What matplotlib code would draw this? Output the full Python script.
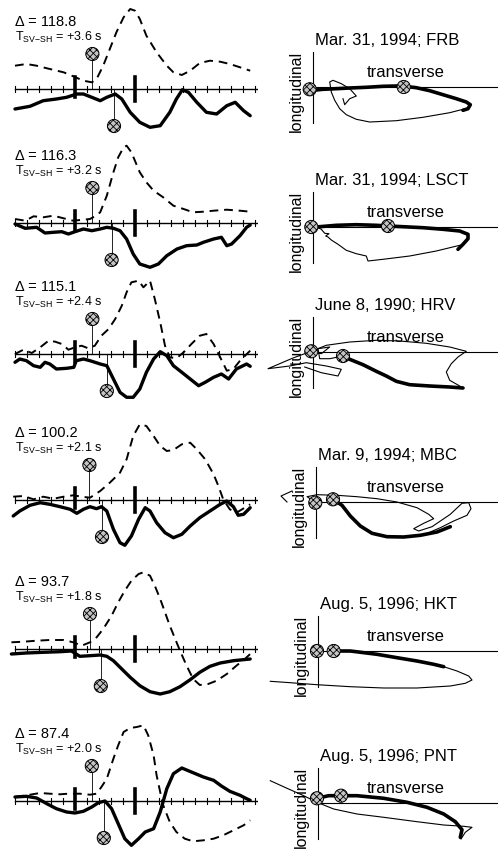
import matplotlib
matplotlib.use('Agg')
import matplotlib.pyplot as plt
import numpy as np

plt.rcParams['font.family'] = ['Liberation Sans', 'DejaVu Sans']
plt.rcParams['mathtext.fontset'] = 'custom'
plt.rcParams['mathtext.rm'] = 'Liberation Sans'
plt.rcParams['hatch.color'] = '#555555'
plt.rcParams['hatch.linewidth'] = 0.6

# ---- event info ----
deltas = [118.8, 116.3, 115.1, 100.2, 93.7, 87.4]
dt_sv_sh = [3.6, 3.2, 2.4, 2.1, 1.8, 2.0]
t_sv = [2.9, 2.9, 2.9, 2.4, 2.5, 2.8]
titles = ['Mar. 31, 1994; FRB', 'Mar. 31, 1994; LSCT', 'June 8, 1990; HRV',
          'Mar. 9, 1994; MBC', 'Aug. 5, 1996; HKT', 'Aug. 5, 1996; PNT']

# ---- seismograms: time (s), amplitude ----
sh1_t = [-10, -7.5, -5.3, -3.1, -1.4, 0.3, 1.4, 2.8, 4.2, 5.3, 6.7, 7.8, 9.2, 10.8, 12.5, 14.2, 15.8, 16.9, 17.9, 18.9, 20.3, 21.9, 23.6, 25.3, 26.7, 28.1, 29.2]
sh1_a = [-20, -17.3, -11.7, -10, -8.3, -5, -5, -8.3, -11.7, -8.3, -5, -10, -23.3, -33.3, -38.3, -36.7, -23.3, -10, -0.7, -3.3, -13.3, -23.3, -25, -16.7, -13.3, -21.7, -26.7]
sv1_t = [-10, -8.1, -6.4, -4.2, -1.9, -0.3, 1.4, 2.8, 3.6, 4.7, 5.8, 6.9, 8.1, 9.2, 10.0, 10.8, 11.9, 13.6, 15.3, 16.4, 17.8, 19.2, 20.8, 22.5, 24.2, 25.8, 27.5, 29.2]
sv1_a = [23.3, 25, 23.3, 20, 16.7, 12.7, 8.3, 6.7, 10, 23.3, 40, 56.7, 71.7, 80, 78.3, 70, 53.3, 36.7, 23.3, 16.7, 14, 18.3, 26, 28.3, 27.3, 25, 21.7, 18.3]

sh2_t = [-10, -8.3, -6.4, -5, -3.6, -2.2, -1.1, 0, 1.4, 2.8, 4.2, 5.3, 6.4, 7.5, 8.6, 9.7, 10.8, 12.5, 13.9, 15.3, 17, 18.6, 20.3, 21.4, 23.1, 24.4, 25.3, 26.1, 27.5, 28.6, 29.2]
sh2_a = [-1, -5.3, -4.3, -10, -9.3, -8.7, -11, -8.7, -6, -7.7, -6, -4.3, -5.3, -7.7, -16, -31, -41, -44.3, -41, -32.7, -26, -22.7, -22, -19.3, -16, -14.3, -22.7, -21, -12.7, -4.3, -2]
sv2_t = [-10, -8.3, -6.9, -5.3, -3.6, -1.9, -0.3, 1.4, 2.5, 3.3, 4.2, 5.3, 6.4, 7.2, 8.1, 8.6, 9.4, 10.8, 11.9, 13.1, 14.7, 16.4, 18.1, 19.7, 21.4, 23.1, 25.3, 27.5, 29.2]
sv2_a = [4, 2.3, 6.7, 5.7, 7.3, 4.7, 2.3, 3.3, 4, 6.7, 10.7, 27.3, 50.7, 65.7, 75.7, 77.3, 70.7, 50.7, 40.7, 32.3, 25.7, 17.3, 14, 10.7, 11.3, 12.3, 13.3, 12.3, 11.3]

sh3_t = [-10, -9.2, -8.1, -6.9, -5.8, -5, -4.2, -3.1, -1.4, -0.2, 0.2, 1.4, 2.5, 4.2, 5.3, 6.4, 7.5, 8.6, 9.7, 10.8, 11.9, 13.1, 14.2, 15.3, 16.4, 17.8, 19.2, 20.6, 21.7, 23.1, 24.4, 25.6, 26.9, 28.6, 29.2]
sh3_a = [-8.3, -5, -6.7, -11.7, -13.3, -8.3, -10, -15, -14.3, -13.3, -6.7, -5, -6.7, -10, -11.7, -25, -38.3, -43.3, -43.3, -35, -18.3, -5, 2.3, -1.7, -11.7, -18.3, -25, -31.7, -28.3, -23.3, -20, -25, -15, -10, -12.3]
sv3_t = [-10, -8.6, -7.2, -5.8, -4.4, -3.3, -2.2, -1.1, 0, 1.1, 2.2, 3.3, 4.4, 5.6, 6.7, 7.8, 8.6, 9.4, 10.6, 11.4, 12.5, 13.3, 14.2, 15, 15.8, 16.9, 18.1, 19.4, 20.8, 21.9, 23.1, 24.2, 25.3, 26.4, 27.5, 29.2]
sv3_a = [0, 4.3, 1, 6.7, 13.3, 12.3, 10, 4.3, 6.7, 8.3, 5.7, 8.3, 18.3, 25, 35, 48.3, 61.7, 71.7, 73.3, 66.7, 73.3, 55, 31.7, 8.3, -3.3, -4.3, 1.7, 10, 18.3, 20, 10, -3.3, -16.7, -15, -6.7, 3.3]

sh4_t = [-10.3, -9.2, -7.5, -5.8, -4.2, -2.5, -0.8, 0.3, 1.4, 2.5, 3.6, 4.4, 5.3, 6.4, 7.5, 8.3, 9.4, 10.6, 11.7, 12.5, 13.6, 15, 16.4, 17.8, 19.2, 20.8, 22.5, 24.2, 25.3, 26.4, 27.2, 28.1, 29.2]
sh4_a = [-16, -11, -5.3, -2.7, -4.3, -6.7, -9.3, -13.3, -9.3, -6.7, -8.7, -6.7, -11, -29.3, -42.7, -45.3, -36, -19.3, -7.7, -11, -22.7, -32.7, -37.7, -34.3, -26, -17.7, -11, -4.3, -1, -6.7, -15.3, -14.3, -7.7]
sv4_t = [-10.3, -8.6, -6.9, -5.3, -3.6, -1.9, -0.3, 1.1, 2.5, 4.2, 5.8, 7.5, 8.6, 9.7, 10.8, 11.9, 13.1, 14.2, 15.3, 16.4, 17.8, 19.2, 20.3, 21.7, 23.1, 23.9, 24.7, 25.8, 26.9, 28.3, 29.2]
sv4_a = [3.3, 4, 0.7, 3.3, 1.3, 3.3, 4.7, 3.3, 2.3, 9, 17.3, 27.3, 40.7, 64, 75.7, 74, 64, 54, 49, 50, 55.7, 57.3, 50.7, 40.7, 25.7, 14, 0.7, -9.3, -12.7, -7.7, -4.3]

sh5_t = [-10.6, -8.1, -5.3, -2.5, -0.6, 0.8, 2.5, 4.2, 5.3, 6.4, 7.8, 9.2, 10.8, 12.5, 14.2, 15.8, 17.5, 19.2, 20.8, 22.5, 24.2, 26.4, 29.2]
sh5_a = [-5, -4, -3.3, -2.7, -2, -7.3, -6.7, -6, -7.3, -11.7, -20, -28.3, -36.7, -42.7, -45, -42.7, -37.7, -30.7, -23.3, -17.3, -14, -11.7, -10]
sv5_t = [-10.6, -8.6, -6.4, -4.2, -1.9, -0.3, 1.1, 2.5, 3.6, 4.7, 6.1, 7.2, 8.3, 9.4, 10.6, 11.4, 12.5, 13.3, 14.2, 15, 15.8, 16.7, 17.5, 18.6, 19.7, 20.8, 22.2, 23.6, 25.3, 26.9, 28.3, 29.2]
sv5_a = [6.7, 7.3, 8.3, 9, 9, 6.7, 3.3, 6.7, 11.7, 20, 33.3, 46.7, 58.3, 68.3, 75, 76.7, 73.3, 63.3, 50, 36.7, 23.3, 10, -1.7, -16.7, -30, -36, -35, -31.7, -25, -16.7, -10, -5]

sh6_t = [-10, -8.1, -6.4, -4.7, -3.1, -1.4, 0, 1.4, 2.8, 3.9, 5, 6.1, 7.2, 8.3, 9.4, 10.6, 11.7, 13.1, 14.2, 15.3, 16.4, 17.8, 19.4, 21.4, 23.1, 24.4, 25.8, 27.5, 28.6, 29.2]
sh6_a = [4, 4.7, 3, -2.7, -7.7, -11, -12, -10.3, -6, -1.7, 0, -7.7, -22.7, -37.7, -44.3, -37.7, -31, -27.7, -11, 12.3, 27.3, 33, 29, 24, 20.7, 15, 9.7, 5.7, 2.3, 0.7]
sv6_t = [-10, -8.1, -5.8, -4.2, -2.5, -1.1, 0.8, 2.5, 3.6, 4.4, 5.3, 6.4, 7.2, 8.1, 9.2, 10.3, 11.4, 12.2, 13.1, 13.6, 14.2, 14.7, 15.8, 16.9, 18.3, 19.7, 21.4, 23.1, 24.7, 26.4, 28.1, 29.2]
sv6_a = [4, 5.7, 8, 7.3, 6.7, 7.3, 7.3, 6.3, 7.3, 14, 22.3, 42.3, 55.7, 69, 73, 74, 75.7, 65.7, 45.7, 25.7, 9, -4.3, -21, -31, -37.7, -40.3, -39.3, -37.7, -34.3, -29.3, -24.3, -19.3]

sh_t = [sh1_t, sh2_t, sh3_t, sh4_t, sh5_t, sh6_t]
sh_a = [sh1_a, sh2_a, sh3_a, sh4_a, sh5_a, sh6_a]
sv_t = [sv1_t, sv2_t, sv3_t, sv4_t, sv5_t, sv6_t]
sv_a = [sv1_a, sv2_a, sv3_a, sv4_a, sv5_a, sv6_a]

# ---- particle motion: transverse (x), longitudinal (y) ----
pm1_thick = ([0, 10, 23.3, 36.7, 53.3, 70, 83.3, 91.7, 103.3, 116.7, 130, 143.3, 153.3, 157.3, 155, 150],
             [-3.3, -2.3, -1.7, -1, -0.3, 0.7, 1, 0.7, -0.7, -3.7, -7.7, -11.7, -15, -17.7, -21.7, -23.3])
pm1_thin = [([155, 136.7, 110, 83.3, 56.7, 43.3, 33.3, 26.7, 21.7, 18.3, 16.7, 20, 28.3, 36.7, 43.3, 36.7, 31.7, 30],
             [-21, -25.7, -30.3, -33.7, -35, -32.3, -27.7, -21.7, -13.3, -5, 5, 6.7, 3.3, -1.7, -9, -11.7, -17.7, -11.7])]
pm1_dots = ([-3.3, 90.7], [-2.3, 0])

pm2_thick = ([-1.7, 6.7, 23.3, 43.3, 63.3, 75, 90, 110, 130, 146.7, 155, 155, 150, 145],
             [-0.7, 0.3, 1.7, 2.3, 1.7, 1, 0.3, -0.7, -2.3, -4, -7.3, -11.7, -17.3, -22.3])
pm2_thin = [([146.7, 123.3, 96.7, 70, 55, 53.3, 43.3, 33.3, 25, 18.3, 15, 12.7, 16, 11.7, 8.3, 3.3],
             [-18.3, -24, -29, -32.3, -34, -29, -26.7, -23.3, -17.3, -13, -10, -9, -6.7, -6.3, -2.3, 0.3])]
pm2_dots = ([-1.7, 75], [0, 1])

pm3_thick = ([30, 36.7, 50, 63.3, 73.3, 83.3, 96.7, 116.7, 136.7, 150],
             [-4, -7.3, -12.7, -19.3, -24, -29.3, -32.7, -34, -35, -36])
pm3_thin = [([-1.7, 13.3, 36.7, 63.3, 86.7, 113.3, 136.7, 153.3, 145, 138.3, 133.3, 136.7, 146.7],
             [0.7, 6.7, 10, 11.7, 11, 8.7, 5, 0.7, -5, -11.7, -20, -28.3, -34]),
            ([30, 16.7, 6.7, 5, 16.7, 8.3, -1.7, -20, -45, -23.3, -6.7, 13.3, 28.3, 25, 8.3, -8.3],
             [-4, -6.7, -6.7, 3.3, 5, -1.7, 0.7, -6, -16.7, -14, -10.7, -14, -17.3, -24, -20.7, -15])]
pm3_dots = ([-1.7, 30], [0.7, -4])

pm4_thick = ([17, 26, 34.3, 44.3, 56, 71, 87.7, 104.3, 121, 134.3],
             [2.7, -3.3, -14, -24, -31.3, -34.7, -35, -33.3, -30, -24.7])
pm4_thin = [([-0.7, -9, 1, 21, 41, 61, 81, 101, 112.7, 117.7, 107.7, 97.7, 102.7, 116, 134.3, 146, 152.7, 155, 151, 137.7, 124.3, 114.3],
             [0, 5.3, 7.3, 6.7, 5.3, 3.3, 0, -5.7, -12.3, -16.7, -21.3, -26.7, -29, -24.7, -12.3, -1.3, -0.7, -6.7, -13.3, -19, -25.7, -30]),
            ([-24, -35, -29], [11, 6, 0])]
pm4_dots = ([-0.7, 17], [-0.7, 2.7])

pm5_thick = ([15.7, 32.3, 59, 79, 99, 115.7, 125.7],
             [0, 0, -3.3, -6.7, -10, -13.3, -15.7])
pm5_thin = [([125.7, 139, 150.7, 154, 147.3, 132.3, 99, 65.7, 32.3, -1, -27.7, -47.7],
             [-15.7, -20, -25, -29, -32.3, -35, -37, -37, -35.7, -33.7, -31.7, -30.3])]
pm5_dots = ([-1, 15.7], [0, 0])

pm6_thick = ([-1, 10.7, 23, 39, 65.7, 89, 109, 125.7, 137.3, 144, 142.3],
             [4.7, 7.3, 7.3, 7.3, 4.7, 0.7, -4.3, -11, -18.7, -26.7, -34.3])
pm6_thin = [([-47.7, -31, -14.3, -1, 15.7, 39, 65.7, 99, 125.7, 145.7, 154, 147.3, 143],
             [22.3, 14.7, 7.3, 0.7, -6, -11, -14.3, -18.7, -22, -23.3, -24.3, -29.3, -36])]
pm6_dots = ([-1, 23], [4.7, 7.3])

pm_thick = [pm1_thick, pm2_thick, pm3_thick, pm4_thick, pm5_thick, pm6_thick]
pm_thin = [pm1_thin, pm2_thin, pm3_thin, pm4_thin, pm5_thin, pm6_thin]
pm_dots = [pm1_dots, pm2_dots, pm3_dots, pm4_dots, pm5_dots, pm6_dots]

# layout (pixels)
axis_y = [90, 224, 355, 501, 650, 802]
origins = [(313, 88), (313, 228), (313, 353), (316, 503), (318, 652), (318, 804)]

W, H = 498.0, 854.0
fig = plt.figure(figsize=(W / 100, H / 100), dpi=100)

dot_kw = dict(s=90, facecolor='#c4c4c4', edgecolor='black', linewidth=0.7, hatch='xxxxx', zorder=5)

for i in range(6):
    ay = axis_y[i]
    ax = fig.add_axes([0, 1 - (ay + 48) / H, 258 / W, 136 / H])
    ax.set_xlim(-75 / 6.0, (258 - 75) / 6.0)
    ax.set_ylim(-48, 88)
    ax.axis('off')

    # time axis
    ax.plot([-10, 30.5], [0, 0], color='k', lw=1.0)
    for tt in np.arange(-10, 31, 2):
        if tt in (0, 10):
            continue
        ax.plot([tt, tt], [-3, 3], color='k', lw=0.8)
    ax.plot([0, 0], [-8, 12], color='k', lw=2.6)
    ax.plot([10, 10], [-12, 12], color='k', lw=2.6)

    ax.plot(sv_t[i], sv_a[i], color='k', lw=1.4, ls=(0, (4.5, 3)))
    ax.plot(sh_t[i], sh_a[i], color='k', lw=2.4, solid_joinstyle='round', solid_capstyle='round')

    ts = t_sv[i]
    th = t_sv[i] + dt_sv_sh[i]
    ax.plot([ts, ts], [0, 35], color='k', lw=0.6)
    ax.plot([th, th], [0, -37], color='k', lw=0.6)
    ax.scatter([ts], [35], **dot_kw)
    ax.scatter([th], [-37], **dot_kw)

    ax.text(-10, 64, '\u0394 = %.1f' % deltas[i], fontsize=10.5, va='baseline')
    ax.text(-10, 49, r'T$_{\mathregular{SV{-}SH}}$ = +%.1f s' % dt_sv_sh[i], fontsize=9, va='baseline')

    # particle motion
    ox, oy = origins[i]
    bx = fig.add_axes([255 / W, 1 - (oy + 50) / H, 243 / W, 110 / H])
    bx.set_xlim(255 - ox, 498 - ox)
    bx.set_ylim(-50, 60)
    bx.axis('off')
    bx.plot([0, 498 - ox], [0, 0], color='k', lw=0.8)
    bx.plot([0, 0], [-36, 35], color='k', lw=0.8)
    for px, py in pm_thin[i]:
        bx.plot(px, py, color='k', lw=0.8)
    bx.plot(pm_thick[i][0], pm_thick[i][1], color='k', lw=2.6, solid_capstyle='round', solid_joinstyle='round')
    bx.scatter(pm_dots[i][0], pm_dots[i][1], **dot_kw)

    bx.text(2, 43, titles[i], fontsize=12, va='baseline')
    bx.text(406 - ox, 11, 'transverse', fontsize=12, ha='center', va='baseline')
    bx.text(-17, -3, 'longitudinal', fontsize=11.5, rotation=90, ha='center', va='center')

fig.savefig('out.png', dpi=100)
